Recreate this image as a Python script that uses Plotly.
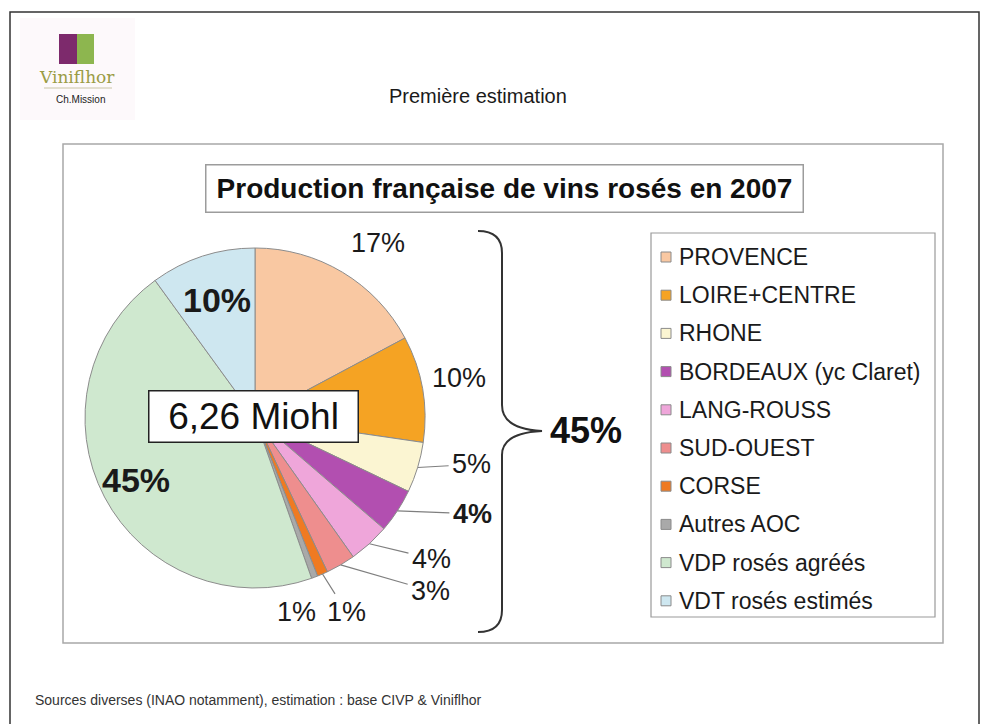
import math
import plotly.graph_objects as go

# --- data -------------------------------------------------------------
regions = ["PROVENCE", "LOIRE+CENTRE", "RHONE", "BORDEAUX (yc Claret)", "LANG-ROUSS",
           "SUD-OUEST", "CORSE", "Autres AOC", "VDP rosés agréés", "VDT rosés estimés"]
shares = [17.2, 10.1, 4.8, 4.2, 3.9, 2.8, 1.0, 0.6, 45.4, 10.0]   # % of total volume
is_aoc = [True, True, True, True, True, True, True, True, False, False]
total_volume = "6,26 Miohl"
colors = ["#F9C8A2", "#F5A323", "#FBF5D2", "#B24FB0", "#EFA6DA",
          "#EE8E8E", "#EF7A22", "#A9A9A9", "#CFE8CF", "#CEE7F0"]

W, H = 981, 724
FONT = "Arial, Liberation Sans, sans-serif"

def fx(px):
    return px / W

def fy(py):
    return 1 - py / H

def label(px, py, text, size, color="#1a1a1a", family=FONT, xanchor="center", **kw):
    return dict(x=fx(px), y=fy(py), xref="paper", yref="paper", text=text,
                xanchor=xanchor, yanchor="middle", showarrow=False,
                font=dict(family=family, size=size, color=color), **kw)

# pie placement (pixels)
CX, CY, R = 255, 418, 170

fig = go.Figure(go.Pie(
    values=shares, labels=regions, sort=False, direction="clockwise", rotation=0,
    marker=dict(colors=colors, line=dict(color="#8c8c8c", width=1)),
    textinfo="none", hoverinfo="label+percent", showlegend=False,
    domain=dict(x=[fx(CX - R), fx(CX + R)], y=[fy(CY + R), fy(CY - R)]),
))

total = sum(shares)
cum = []
acc = 0
for v in shares:
    cum.append((acc, acc + v))
    acc += v

def point(frac, rfrac=1.0):
    a = 2 * math.pi * frac
    return CX + R * rfrac * math.sin(a), CY - R * rfrac * math.cos(a)

def pct(v):
    return f"{round(v / total * 100)}%"

annotations = []
shapes = []

# outside labels: (offset x, offset y, bold, leader line)
label_style = {
    0: (36, -29, False, False),
    1: (37, -11, False, False),
    2: (54, -3, False, True),
    3: (75, 3, True, True),
    4: (62, 15, False, True),
    5: (90, 26, False, True),
    6: (24, 38, False, True),
    7: (-18, 35, False, False),
}
for i, (ox, oy, bold, leader) in label_style.items():
    a0, a1 = cum[i]
    ex, ey = point((a0 + a1) / 2 / total)
    txt = f"<b>{pct(shares[i])}</b>" if bold else pct(shares[i])
    if leader:
        annotations.append(dict(
            x=fx(ex), y=fy(ey), xref="paper", yref="paper", text=txt,
            xanchor="center", yanchor="middle",
            showarrow=True, ax=ox, ay=oy, arrowhead=0, arrowwidth=1.2,
            arrowcolor="#7f7f7f", standoff=0, startstandoff=2,
            font=dict(family=FONT, size=27, color="#1a1a1a")))
    else:
        annotations.append(label(ex + ox, ey + oy, txt, 27))

# inside bold labels for the two non-AOC slices
for i, rf in ((8, 0.79), (9, 0.73)):
    a0, a1 = cum[i]
    px, py = point((a0 + a1) / 2 / total, rf)
    annotations.append(label(px, py, f"<b>{pct(shares[i])}</b>", 34))

# total volume box
annotations.append(label(253, 416, total_volume, 37, color="#111",
                         bgcolor="white", bordercolor="#222", borderwidth=1.5,
                         width=204, height=46, borderpad=2))

# brace grouping the AOC slices
aoc_total = sum(v for v, a in zip(shares, is_aoc) if a)
bx, tip_x, top, bot, mid = 502, 542, 231, 632, 431
brace = (f"M 478 {top} Q {bx} {top} {bx} {top + 22} L {bx} {mid - 26} "
         f"Q {bx} {mid - 2} {tip_x} {mid} Q {bx} {mid + 2} {bx} {mid + 24} "
         f"L {bx} {bot - 22} Q {bx} {bot} 478 {bot}")
shapes.append(dict(type="path", path=brace, xref="x", yref="y",
                   line=dict(color="#333", width=2)))
annotations.append(label(548, 431, f"<b>{round(aoc_total / total * 100)}%</b>", 36,
                         color="#111", xanchor="left"))

# legend box and entries
shapes.append(dict(type="rect", x0=651, x1=935, y0=233, y1=617, xref="x", yref="y",
                   line=dict(color="#9a9a9a", width=1.2)))
for i, (name, col) in enumerate(zip(regions, colors)):
    yy = 257 + i * 38.2
    shapes.append(dict(type="rect", x0=661, x1=671, y0=yy - 5, y1=yy + 5, xref="x", yref="y",
                       fillcolor=col, line=dict(color="#8a8a8a", width=1)))
    annotations.append(label(677, yy, name, 23, xanchor="left"))

# frames
shapes.append(dict(type="rect", x0=10, x1=979, y0=12, y1=740, xref="x", yref="y",
                   line=dict(color="#333", width=1.5)))
shapes.append(dict(type="rect", x0=63, x1=943, y0=144, y1=643, xref="x", yref="y",
                   line=dict(color="#a8a8a8", width=1.5)))

# chart title box
annotations.append(label(505, 188, "<b>Production française de vins rosés en 2007</b>", 28,
                         color="#111", bgcolor="white", bordercolor="#9c9c9c",
                         borderwidth=1.5, width=594, height=44))

annotations.append(label(478, 96, "Première estimation", 20))

annotations.append(label(33, 700,
                         "Sources diverses (INAO notamment), estimation : base CIVP & Viniflhor",
                         14, color="#333", xanchor="left"))

# logo block
shapes += [
    dict(type="rect", x0=20, x1=135, y0=18, y1=120, xref="x", yref="y",
         fillcolor="#fdf9fb", line=dict(width=0), layer="below"),
    dict(type="rect", x0=59, x1=77, y0=34, y1=64, xref="x", yref="y",
         fillcolor="#7d2a6c", line=dict(width=0)),
    dict(type="rect", x0=77, x1=94, y0=34, y1=64, xref="x", yref="y",
         fillcolor="#8db64f", line=dict(width=0)),
    dict(type="line", x0=44, x1=112, y0=88, y1=88, xref="x", yref="y",
         line=dict(color="#c9c5a6", width=1)),
]
annotations += [
    label(77, 77, "Viniflhor", 17, color="#9a9c45", family="DejaVu Serif, serif"),
    label(80, 99, "Ch.Mission", 10, color="#222"),
]

fig.update_layout(
    width=W, height=H, margin=dict(l=0, r=0, t=0, b=0),
    paper_bgcolor="white", plot_bgcolor="rgba(0,0,0,0)",
    xaxis=dict(range=[0, W], visible=False, fixedrange=True),
    yaxis=dict(range=[H, 0], visible=False, fixedrange=True),
    shapes=shapes, annotations=annotations, showlegend=False,
)
fig.write_html("out.html")
